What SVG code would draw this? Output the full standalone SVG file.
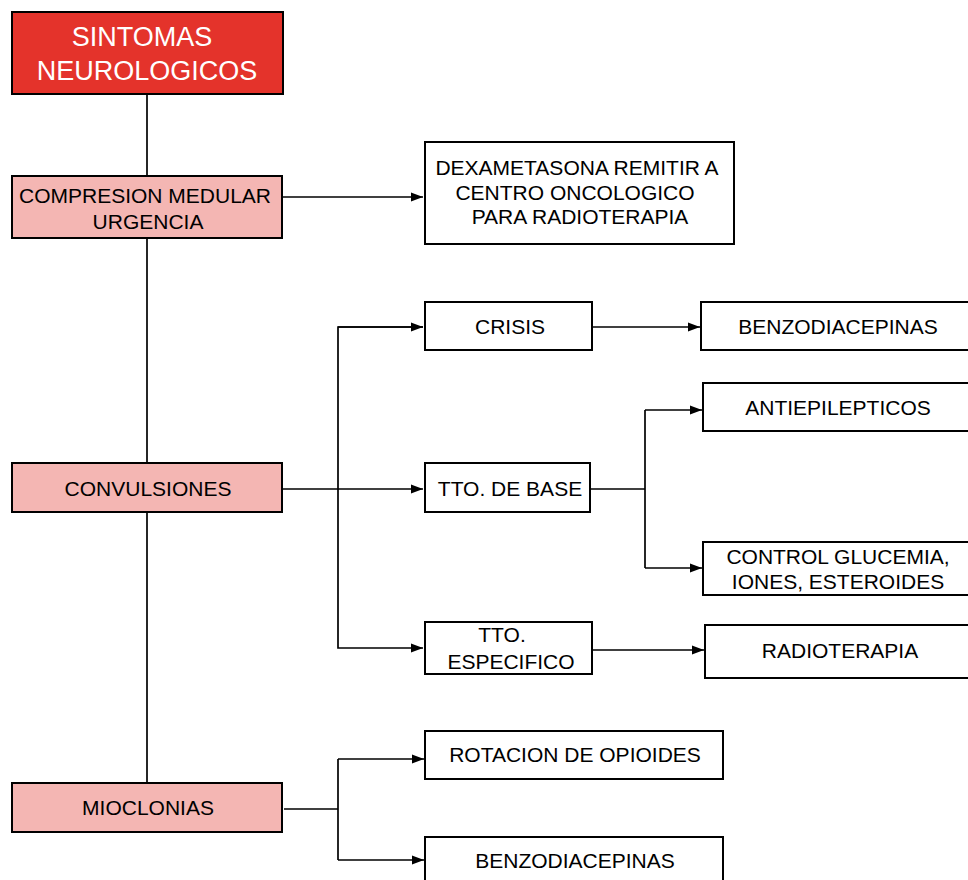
<svg xmlns="http://www.w3.org/2000/svg" width="968" height="880" viewBox="0 0 968 880">
<style>
.box{fill:#ffffff;stroke:#000;stroke-width:2}
.pink{fill:#f4b6b3;stroke:#000;stroke-width:2}
.red{fill:#e4332b;stroke:#000;stroke-width:2}
.t{font-family:"Liberation Sans",Arial,sans-serif;font-size:21px;fill:#000;text-anchor:middle}
.tw{font-family:"Liberation Sans",Arial,sans-serif;font-size:27px;fill:#fff;text-anchor:middle}
.c{fill:none;stroke:#000;stroke-width:1.7}
</style>
<defs>
<marker id="ah" viewBox="0 0 12 10" refX="12" refY="5" markerWidth="12" markerHeight="10" markerUnits="userSpaceOnUse" orient="auto">
<path d="M0,0.5 L12,5 L0,9.5 Z" fill="#000"/>
</marker>
</defs>
<rect width="968" height="880" fill="#fff"/>
<g id="connectors">
<line class="c" x1="147" y1="94" x2="147" y2="783"/>
<line class="c" x1="282" y1="197" x2="423" y2="197" marker-end="url(#ah)"/>
<line class="c" x1="282" y1="489" x2="423" y2="489" marker-end="url(#ah)"/>
<path class="c" d="M423,327 H338 V648 H423" marker-end="url(#ah)"/>
<line class="c" x1="338" y1="327" x2="423" y2="327" marker-end="url(#ah)"/>
<line class="c" x1="592" y1="327" x2="700" y2="327" marker-end="url(#ah)"/>
<line class="c" x1="590" y1="489" x2="645" y2="489"/>
<path class="c" d="M645,410 V568"/>
<line class="c" x1="645" y1="410" x2="702" y2="410" marker-end="url(#ah)"/>
<line class="c" x1="645" y1="568" x2="702" y2="568" marker-end="url(#ah)"/>
<line class="c" x1="592" y1="650" x2="704" y2="650" marker-end="url(#ah)"/>
<line class="c" x1="284" y1="809" x2="338" y2="809"/>
<path class="c" d="M338,759 V860"/>
<line class="c" x1="338" y1="759" x2="424" y2="759" marker-end="url(#ah)"/>
<line class="c" x1="338" y1="860" x2="424" y2="860" marker-end="url(#ah)"/>
</g>
<g id="sintomas">
<rect class="red" x="12" y="12" width="271" height="82"/>
<text class="tw" x="142" y="46">SINTOMAS</text>
<text class="tw" x="147" y="80">NEUROLOGICOS</text>
</g>
<g id="compresion">
<rect class="pink" x="12" y="176" width="270" height="62"/>
<text class="t" x="145" y="203">COMPRESION MEDULAR</text>
<text class="t" x="148" y="229">URGENCIA</text>
</g>
<g id="dexametasona">
<rect class="box" x="425" y="142" width="309" height="102"/>
<text class="t" x="577" y="175">DEXAMETASONA REMITIR A</text>
<text class="t" x="575" y="200">CENTRO ONCOLOGICO</text>
<text class="t" x="580" y="224">PARA RADIOTERAPIA</text>
</g>
<g id="convulsiones">
<rect class="pink" x="12" y="463" width="270" height="49"/>
<text class="t" x="148" y="496">CONVULSIONES</text>
</g>
<g id="crisis">
<rect class="box" x="425" y="302" width="167" height="48"/>
<text class="t" x="510" y="334">CRISIS</text>
</g>
<g id="benzo1">
<rect class="box" x="701" y="302" width="280" height="48"/>
<text class="t" x="838" y="334">BENZODIACEPINAS</text>
</g>
<g id="tto-base">
<rect class="box" x="425" y="463" width="165" height="49"/>
<text class="t" x="510" y="496">TTO. DE BASE</text>
</g>
<g id="antiepilepticos">
<rect class="box" x="703" y="383" width="280" height="48"/>
<text class="t" x="838" y="415">ANTIEPILEPTICOS</text>
</g>
<g id="control">
<rect class="box" x="703" y="542" width="280" height="53"/>
<text class="t" x="838" y="564">CONTROL GLUCEMIA,</text>
<text class="t" x="838" y="589">IONES, ESTEROIDES</text>
</g>
<g id="tto-especifico">
<rect class="box" x="425" y="622" width="167" height="52"/>
<text class="t" x="502" y="642">TTO.</text>
<text class="t" x="511" y="669">ESPECIFICO</text>
</g>
<g id="radioterapia">
<rect class="box" x="705" y="625" width="280" height="53"/>
<text class="t" x="840" y="658">RADIOTERAPIA</text>
</g>
<g id="mioclonias">
<rect class="pink" x="12" y="783" width="270" height="49"/>
<text class="t" x="148" y="815">MIOCLONIAS</text>
</g>
<g id="rotacion">
<rect class="box" x="425" y="731" width="298" height="48"/>
<text class="t" x="575" y="762">ROTACION DE OPIOIDES</text>
</g>
<g id="benzo2">
<rect class="box" x="425" y="837" width="298" height="60"/>
<text class="t" x="575" y="868">BENZODIACEPINAS</text>
</g>
</svg>
